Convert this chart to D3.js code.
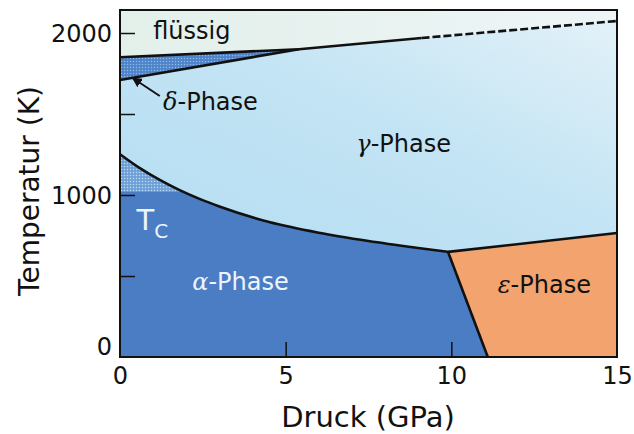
<!DOCTYPE html>
<html><head><meta charset="utf-8">
<script src="https://cdn.jsdelivr.net/npm/d3@7"></script>
<style>
html,body{margin:0;padding:0;background:#fff;}
text{font-family:"DejaVu Sans",sans-serif;}
</style></head>
<body><svg id="c" width="634" height="434"></svg>
<script>
// ---- data (pressure in GPa, temperature in K) ----
const pressureTicks = [0, 5, 10, 15];
const temperatureTicks = [0, 1000, 2000];
const temperatureMinorTicks = [500, 1500];
const liquidusSolid = [[0, 1850], [5.4, 1900], [9.1, 1969]];
const liquidusDashed = [[9.1, 1969], [15, 2074]];
const deltaGammaLine = [[0, 1710], [5.4, 1900]];
const alphaGammaCurve = [[0, 1252], [0.6, 1166], [1.2, 1093], [1.8, 1030], [2.4, 976], [3, 929], [4.5, 833], [6, 767], [7.5, 716], [9, 673], [9.9, 649]];
const gammaEpsilonLine = [[9.9, 649], [15, 765]];
const alphaEpsilonLine = [[9.9, 649], [11.1, 0]];
const curieTemperature = 1020;
const pressureDomain = [0, 15];
const temperatureDomain = [0, 2142];

const svg = d3.select("#c");
const x = d3.scaleLinear().domain(pressureDomain).range([120, 617]);
const y = d3.scaleLinear().domain(temperatureDomain).range([357, 10]);

const lin = d3.line().x(d => x(d[0])).y(d => y(d[1]));
const mono = d3.line().x(d => x(d[0])).y(d => y(d[1])).curve(d3.curveMonotoneX);
const pt = p => [x(p[0]), y(p[1])];
const L = p => "L" + pt(p).join(",");

const Pmin = pressureDomain[0], Pmax = pressureDomain[1], Tmax = temperatureDomain[1];
const last = a => a[a.length - 1];

// defs
const defs = svg.append("defs");
const gG = defs.append("linearGradient").attr("id", "gGamma").attr("x1", 0).attr("y1", 1).attr("x2", 1).attr("y2", 0);
gG.append("stop").attr("offset", 0).attr("stop-color", "#b4ddf2");
gG.append("stop").attr("offset", 0.55).attr("stop-color", "#c3e4f4");
gG.append("stop").attr("offset", 1).attr("stop-color", "#e2f1f8");
const gL = defs.append("linearGradient").attr("id", "gLiq").attr("x1", 0).attr("y1", 0).attr("x2", 1).attr("y2", 0);
gL.append("stop").attr("offset", 0).attr("stop-color", "#e3f0ea");
gL.append("stop").attr("offset", 1).attr("stop-color", "#eef5f8");

function dotPattern(id, bg, dot) {
  const p = defs.append("pattern").attr("id", id).attr("patternUnits", "userSpaceOnUse").attr("width", 3).attr("height", 3);
  p.append("rect").attr("width", 3).attr("height", 3).attr("fill", bg);
  p.append("circle").attr("cx", 1.5).attr("cy", 1.5).attr("r", 0.75).attr("fill", dot);
}
dotPattern("pDelta", "#4f83c9", "#8cbbe6");
dotPattern("pCurie", "#6f9fd6", "#b9ddf2");

const colAlpha = "#4a7dc4", colEps = "#f2a36e";

// liquid region
svg.append("path")
  .attr("d", lin(liquidusSolid) + L(last(liquidusDashed)) + L([Pmax, Tmax]) + L([Pmin, Tmax]) + "Z")
  .attr("fill", "url(#gLiq)");
// gamma region
svg.append("path")
  .attr("d", mono(alphaGammaCurve) + L(last(gammaEpsilonLine)) + L(last(liquidusDashed)) +
    liquidusSolid.slice().reverse().map(L).join("") + L(deltaGammaLine[0]) + "Z")
  .attr("fill", "url(#gGamma)");
// delta region
svg.append("path")
  .attr("d", lin(deltaGammaLine) + L(liquidusSolid[0]) + "Z")
  .attr("fill", "url(#pDelta)");
// alpha region
const alphaD = "M" + pt([Pmin, 0]).join(",") + mono(alphaGammaCurve).replace(/^M/, "L") + L(last(alphaEpsilonLine)) + "Z";
svg.append("path").attr("d", alphaD).attr("fill", colAlpha);
defs.append("clipPath").attr("id", "clipAlpha").append("path").attr("d", alphaD);
svg.append("rect")
  .attr("x", x(Pmin)).attr("y", y(Tmax)).attr("width", x(Pmax) - x(Pmin)).attr("height", y(curieTemperature) - y(Tmax))
  .attr("fill", "url(#pCurie)").attr("clip-path", "url(#clipAlpha)");
// epsilon region
svg.append("path")
  .attr("d", lin(gammaEpsilonLine) + L([Pmax, 0]) + L(last(alphaEpsilonLine)) + "Z")
  .attr("fill", colEps);

// boundaries
const bnd = (d, dash) => svg.append("path").attr("d", d).attr("fill", "none").attr("stroke", "#111")
  .attr("stroke-width", 2.6).attr("stroke-dasharray", dash || null);
bnd(lin(liquidusSolid));
bnd(lin(liquidusDashed), "8,3");
bnd(lin(deltaGammaLine));
bnd(mono(alphaGammaCurve));
bnd(lin(gammaEpsilonLine));
bnd(lin(alphaEpsilonLine));

// frame
svg.append("rect").attr("x", x(Pmin)).attr("y", y(Tmax)).attr("width", x(Pmax) - x(Pmin)).attr("height", y(0) - y(Tmax))
  .attr("fill", "none").attr("stroke", "#111").attr("stroke-width", 2);

// axes (ticks inward)
const xAxis = d3.axisBottom(x).tickValues(pressureTicks).tickSize(-15).tickPadding(24).tickFormat(d3.format("d"));
const gx = svg.append("g").attr("transform", `translate(0,${y(0)})`).call(xAxis);
gx.select(".domain").remove();
gx.selectAll("line").attr("stroke", "#111").attr("stroke-width", 1.5)
  .filter(d => d === Pmin || d === Pmax).remove();
gx.selectAll("text").attr("font-size", 24).attr("fill", "#111").attr("dy", 0).attr("y", 27);

const yAxis = d3.axisLeft(y).tickValues(temperatureTicks).tickSize(-15).tickPadding(24).tickFormat(d3.format("d"));
const gy = svg.append("g").attr("transform", `translate(${x(Pmin)},0)`).call(yAxis);
gy.select(".domain").remove();
gy.selectAll("line").attr("stroke", "#111").attr("stroke-width", 1.5).filter(d => d === 0).remove();
gy.selectAll("text").attr("font-size", 24).attr("fill", "#111").attr("x", -8).attr("dy", "0.35em")
  .filter(d => d === 0).attr("dy", "-0.12em");
const yMinor = d3.axisLeft(y).tickValues(temperatureMinorTicks).tickSize(-15).tickFormat("");
const gym = svg.append("g").attr("transform", `translate(${x(Pmin)},0)`).call(yMinor);
gym.select(".domain").remove();
gym.selectAll("line").attr("stroke", "#111").attr("stroke-width", 1.5);

// axis titles
svg.append("text").attr("x", 368).attr("y", 427).attr("text-anchor", "middle").attr("font-size", 29).attr("fill", "#111").text("Druck (GPa)");
svg.append("text").attr("transform", "translate(39,191) rotate(-90)").attr("text-anchor", "middle").attr("font-size", 28).attr("fill", "#111").text("Temperatur (K)");

// labels
const lab = (px, ty, parts, col, anchor) => {
  const t = svg.append("text").attr("x", x(px)).attr("y", y(ty)).attr("font-size", 24).attr("fill", col).attr("text-anchor", anchor || "start");
  parts.forEach(p => t.append("tspan").attr("font-style", p[1] ? "italic" : null).attr("font-family", p[1] ? "DejaVu Serif" : null).text(p[0]));
  return t;
};
lab(1.0, 1963, [["flüssig"]], "#111");
lab(1.3, 1523, [["δ", 1], ["-Phase"]], "#111");
lab(8.56, 1265, [["γ", 1], ["-Phase"]], "#111", "middle");
lab(2.18, 413, [["α", 1], ["-Phase"]], "#eef4fb");
lab(11.4, 395, [["ε", 1], ["-Phase"]], "#111");
const tc = svg.append("text").attr("x", x(0.5)).attr("y", y(786)).attr("font-size", 29).attr("fill", "#eef4fb");
tc.append("tspan").text("T");
tc.append("tspan").attr("font-size", 20).attr("dy", 8).text("C");

// arrow to delta phase
defs.append("marker").attr("id", "ah").attr("viewBox", "0 0 10 10").attr("refX", 9).attr("refY", 5)
  .attr("markerWidth", 5).attr("markerHeight", 5).attr("orient", "auto")
  .append("path").attr("d", "M0,0L10,5L0,10Z").attr("fill", "#111");
svg.append("line").attr("x1", x(1.2)).attr("y1", y(1611)).attr("x2", x(0.38)).attr("y2", y(1722))
  .attr("stroke", "#111").attr("stroke-width", 2).attr("marker-end", "url(#ah)");
</script></body></html>
